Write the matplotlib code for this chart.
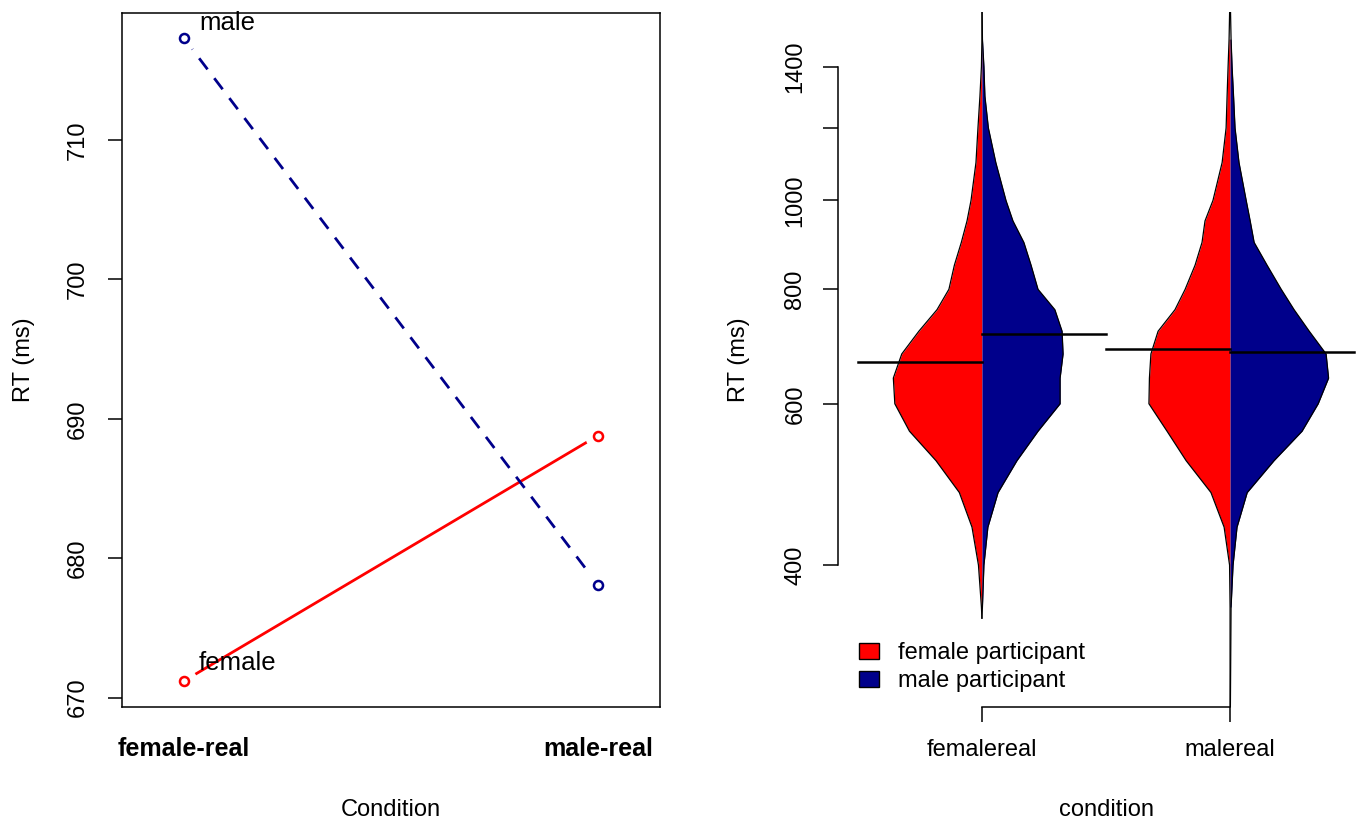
import numpy as np
import matplotlib
matplotlib.use("Agg")
import matplotlib.pyplot as plt
from matplotlib.patches import Patch
from matplotlib.ticker import NullLocator

plt.rcParams['font.family'] = ['Liberation Sans', 'DejaVu Sans']

# ---- left panel: interaction plot
conditions = ['female-real', 'male-real']
rt_female = [671.2, 688.8]
rt_male = [717.3, 678.1]
left_yticks = [670, 680, 690, 700, 710]

# ---- right panel: split bean plot (log RT axis)
bean_names = ['femalereal', 'malereal']
rt_grid = [360, 400, 440, 480, 520, 560, 600, 640, 680, 720, 760, 800,
           850, 900, 950, 1000, 1100, 1200, 1300, 1400, 1500]
# half widths of the beans (x units) at each rt_grid value
w_fem_1 = [0.002, 0.014, 0.040, 0.091, 0.185, 0.292, 0.351, 0.357, 0.323, 0.254, 0.181,
           0.133, 0.111, 0.083, 0.060, 0.044, 0.024, 0.016, 0.008, 0.002, 0.0]
w_male_1 = [0.002, 0.008, 0.024, 0.065, 0.141, 0.226, 0.315, 0.315, 0.327, 0.323, 0.294,
            0.226, 0.198, 0.169, 0.125, 0.097, 0.056, 0.026, 0.012, 0.008, 0.002]
w_fem_2 = [0.0, 0.002, 0.024, 0.077, 0.177, 0.254, 0.327, 0.325, 0.319, 0.290, 0.222,
           0.181, 0.141, 0.113, 0.101, 0.069, 0.032, 0.016, 0.012, 0.008, 0.004]
w_male_2 = [0.004, 0.012, 0.028, 0.069, 0.177, 0.290, 0.355, 0.397, 0.387, 0.319, 0.258,
            0.206, 0.149, 0.097, 0.081, 0.065, 0.036, 0.020, 0.014, 0.008, 0.004]
bean_mean_female = [667, 688.5]
bean_mean_male = [715, 683.4]
bean_tail_lo = [350, 250]
bean_tail_hi = [1700, 1700]
right_yticks = [400, 600, 800, 1000, 1200, 1400]
right_ylabels = ['400', '600', '800', '1000', '', '1400']
legend_labels = ['female participant', 'male participant']

RED = '#FF0000'
NAVY = '#00008B'
W, H = 1359, 821

fig = plt.figure(figsize=(W / 100, H / 100), dpi=100)

# ------------------------------------------------------------ left
ax1 = fig.add_axes([122 / W, 1 - 706.7 / H, (660 - 122) / W, (706.7 - 12.7) / H])
xs = [1, 2]
ax1.plot(xs, rt_female, color=RED, lw=2, zorder=2)
ax1.plot(xs, rt_male, color=NAVY, lw=2, dashes=(5, 4), zorder=2)
for vals, col in [(rt_female, RED), (rt_male, NAVY)]:
    ax1.plot(xs, vals, 'o', ms=19, mfc='white', mec='none', zorder=3)
    ax1.plot(xs, vals, 'o', ms=6.5, mfc='none', mec=col, mew=1.8, zorder=4)
ax1.text(1.036, rt_male[0] + 1.1, 'male', ha='left', va='center', fontsize=18.5, zorder=5)
ax1.text(1.034, rt_female[0] + 1.3, 'female', ha='left', va='center', fontsize=18.5, zorder=5)

ax1.set_xlim(0.85, 2.15)
ax1.set_ylim(669.35, 719.14)
ax1.set_xticks(xs)
ax1.set_xticklabels(conditions, fontsize=18, fontweight='bold')
ax1.set_yticks(left_yticks)
ax1.set_yticklabels([str(v) for v in left_yticks], fontsize=17)
ax1.tick_params(axis='x', length=0, pad=22)
ax1.tick_params(axis='y', length=10, width=1.1, pad=13.7, labelrotation=90)
for lab in ax1.get_yticklabels():
    lab.set_va('center')
for sp in ax1.spines.values():
    sp.set_linewidth(1.1)

fig.text(24 / W, 1 - 360 / H, 'RT (ms)', rotation=90, ha='center', va='center', fontsize=17)
fig.text(391 / W, 1 - 810 / H, 'Condition', ha='center', va='center', fontsize=17)

# ------------------------------------------------------------ right
ax2 = fig.add_axes([838 / W, 1 - 707 / H, (1374 - 838) / W, (707 - 12) / H])
ax2.set_yscale('log')
rt = np.array(rt_grid, dtype=float)
for i, (wf, wm) in enumerate([(w_fem_1, w_male_1), (w_fem_2, w_male_2)]):
    c = i + 1
    wf = np.array(wf)
    wm = np.array(wm)
    ax2.fill_betweenx(rt, c - wf, c, color=RED, lw=0, zorder=2)
    ax2.fill_betweenx(rt, c, c + wm, color=NAVY, lw=0, zorder=2)
    yy = np.r_[bean_tail_lo[i], rt, bean_tail_hi[i]]
    ax2.plot(np.r_[c, c - wf, c], yy, color='black', lw=0.9, zorder=3)
    ax2.plot(np.r_[c, c + wm, c], yy, color='black', lw=0.9, zorder=3)
    ax2.plot([c - 0.5, c], [bean_mean_female[i]] * 2, color='black', lw=1.8, zorder=4)
    ax2.plot([c, c + 0.5], [bean_mean_male[i]] * 2, color='black', lw=1.8, zorder=4)

ax2.set_xlim(0.42, 2.58)
ax2.set_ylim(280, 1606)
ax2.set_yticks(right_yticks)
ax2.set_yticklabels(right_ylabels, fontsize=17)
ax2.yaxis.set_minor_locator(NullLocator())
ax2.set_xticks([1, 2])
ax2.set_xticklabels(bean_names, fontsize=17)
ax2.tick_params(axis='y', length=10.8, width=1.1, pad=12, labelrotation=90)
ax2.tick_params(axis='x', length=10.8, width=1.1, pad=12.5)
for lab in ax2.get_yticklabels():
    lab.set_va('center')
ax2.spines['top'].set_visible(False)
ax2.spines['right'].set_visible(False)
ax2.spines['left'].set_bounds(400, 1400)
ax2.spines['bottom'].set_bounds(1, 2)
ax2.spines['left'].set_linewidth(1.1)
ax2.spines['bottom'].set_linewidth(1.1)

handles = [Patch(facecolor=RED, edgecolor='black', label=legend_labels[0]),
           Patch(facecolor=NAVY, edgecolor='black', label=legend_labels[1])]
ax2.legend(handles=handles, loc='upper left', bbox_to_anchor=(859 / W, 1 - 642 / H),
           bbox_transform=fig.transFigure, frameon=False, fontsize=17,
           handlelength=0.85, handleheight=0.64, handletextpad=0.8,
           labelspacing=0.27, borderpad=0, borderaxespad=0)

fig.text(739 / W, 1 - 360 / H, 'RT (ms)', rotation=90, ha='center', va='center', fontsize=17)
fig.text(1106 / W, 1 - 810 / H, 'condition', ha='center', va='center', fontsize=17)

fig.savefig('out.png', dpi=100)
